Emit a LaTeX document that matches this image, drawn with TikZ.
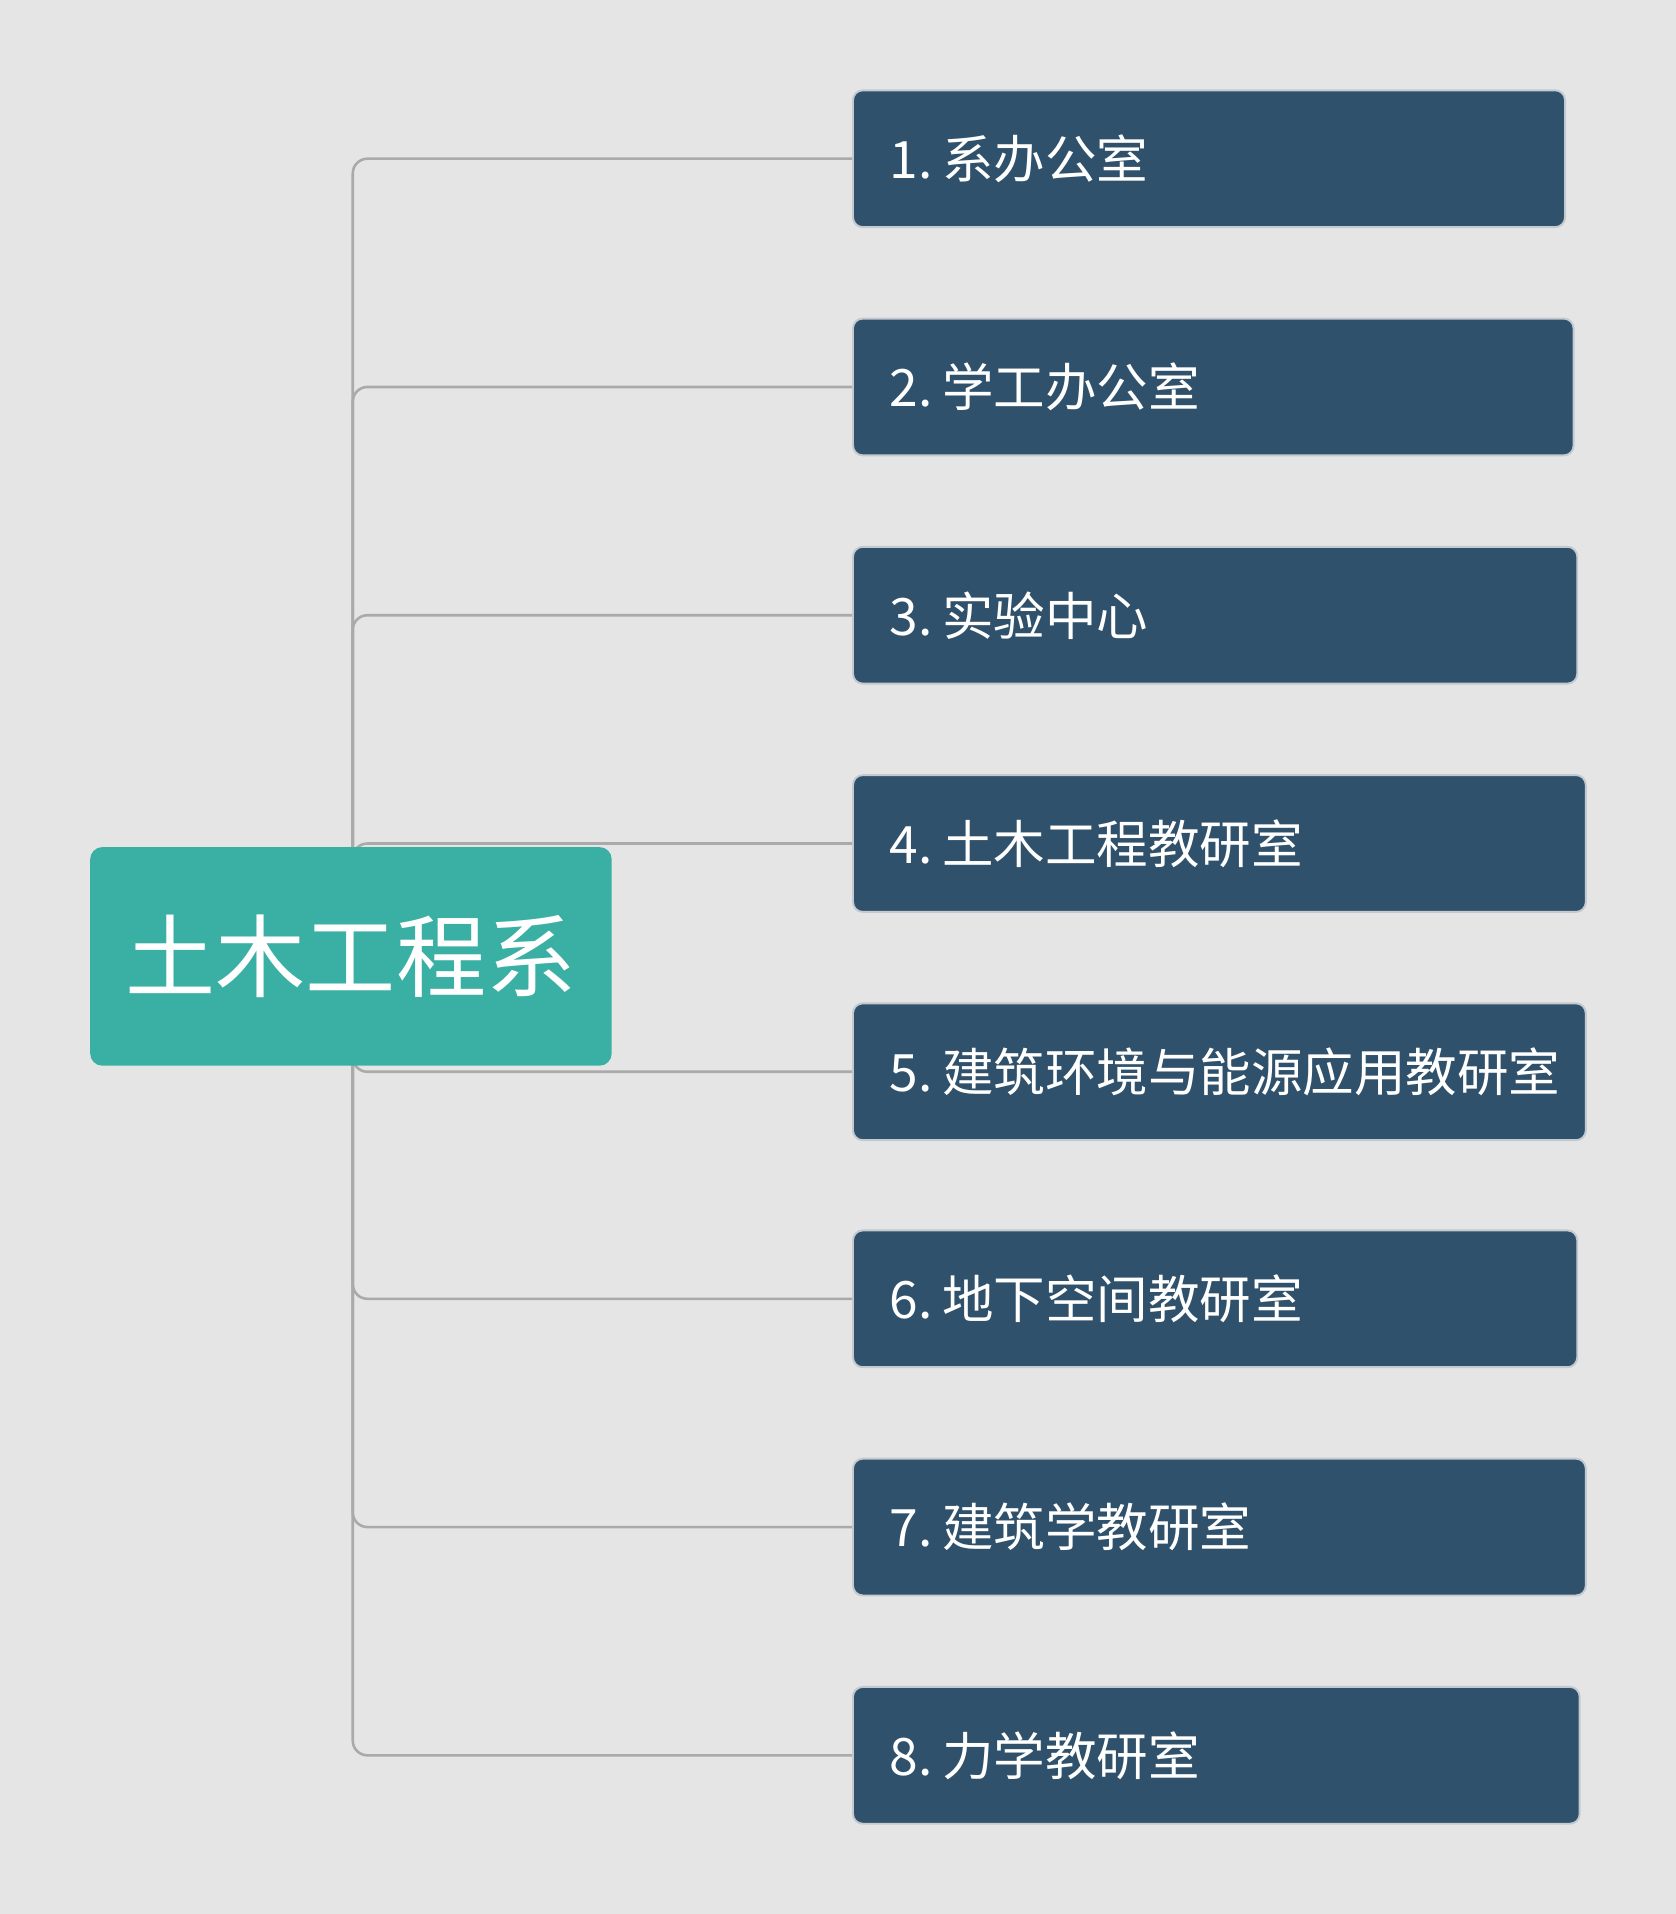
\documentclass[tikz,border=0pt]{standalone}
\usepackage{fontspec}
\setmainfont{Noto Sans CJK SC}
\definecolor{bgc}{HTML}{E5E5E5}
\definecolor{deptc}{HTML}{30516B}
\definecolor{rootc}{HTML}{3AB0A5}
\definecolor{edgec}{HTML}{C2C9D0}
\definecolor{linkc}{HTML}{AAAAAA}
\newcommand{\numsep}{\hspace{0.08cm}}
\tikzset{
  dept/.style={anchor=west, fill=deptc, draw=edgec, line width=0.45pt, rounded corners=0.08cm,
    text=white, align=left, inner xsep=0.3cm, minimum height=1.12cm,
    font=\fontsize{12pt}{14pt}\selectfont},
  rootbox/.style={fill=rootc, rounded corners=0.1cm, text=white, minimum width=4.27cm,
    minimum height=1.79cm, font=\fontsize{21pt}{24pt}\selectfont},
  link/.style={draw=linkc, line width=0.6pt, rounded corners=0.12cm}
}
\begin{document}
\begin{tikzpicture}[x=0.01cm, y=-0.01cm]
\fill[bgc] (0,0) rectangle (1373,1568);
\useasboundingbox (0,0) rectangle (1373,1568);
\foreach \i/\y/\w/\t in {1/130/5.23/{1.\numsep 系办公室}, 2/317/5.30/{2.\numsep 学工办公室},
  3/504/5.33/{3.\numsep 实验中心}, 4/691/5.40/{4.\numsep 土木工程教研室},
  5/878/5.40/{5.\numsep 建筑环境与能源应用教研室}, 6/1064/5.33/{6.\numsep 地下空间教研室},
  7/1251/5.40/{7.\numsep 建筑学教研室}, 8/1438/5.35/{8.\numsep 力学教研室}}
  \node[dept, text width=\w cm] (b\i) at (698,\y) {\mbox{\t}};
\coordinate (trunk) at (289,783.5);
\foreach \i in {1,...,8} \draw[link] (trunk) |- (b\i.west);
\node[rootbox] (root) at (287.5,783.5) {土木工程系};
\end{tikzpicture}
\end{document}
